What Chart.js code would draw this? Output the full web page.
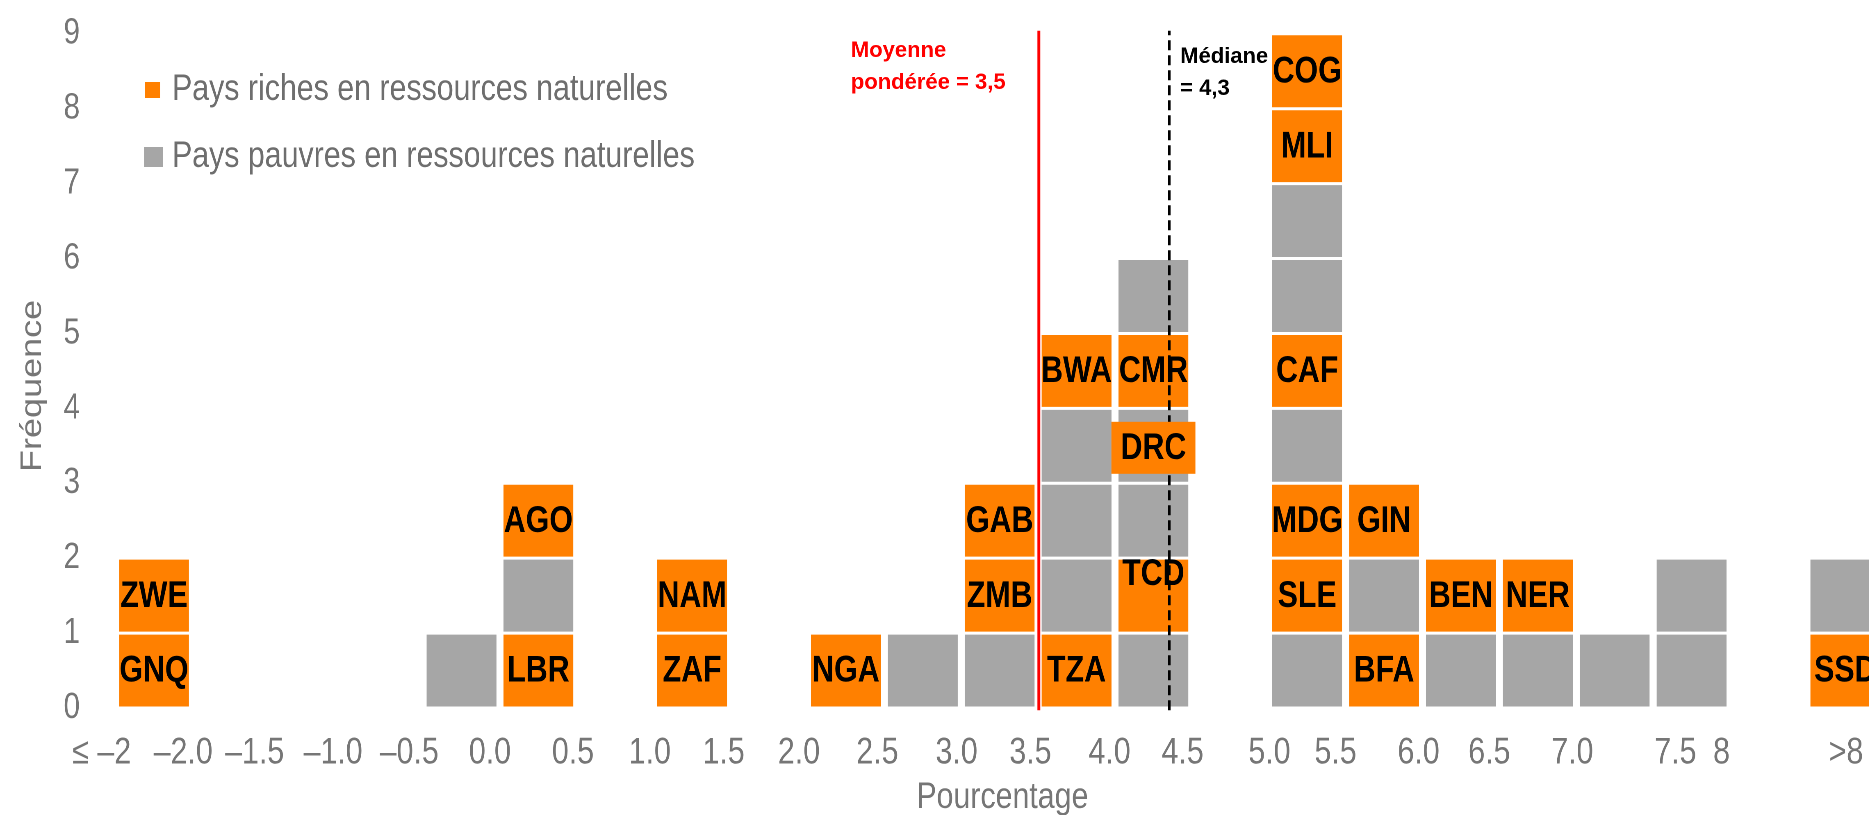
<!DOCTYPE html>
<html>
<head>
<meta charset="utf-8">
<script src="https://cdn.jsdelivr.net/npm/chart.js@4/dist/chart.umd.min.js"></script>
<style>
  html, body { margin: 0; padding: 0; background: #ffffff; width: 1869px; height: 815px; overflow: hidden; }
  #wrap { position: absolute; left: 0; top: 0; transform-origin: 0 0; }
</style>
</head>
<body>
<div id="wrap"><canvas id="chart"></canvas></div>
<script>
// ---------------- DATA ----------------
// x-axis tick labels (bin edges, in %) and where they sit on the bin axis
const tickLabels = ['≤ –2', '–2.0', '–1.5', '–1.0', '–0.5', '0.0', '0.5', '1.0', '1.5', '2.0', '2.5',
                    '3.0', '3.5', '4.0', '4.5', '5.0', '5.5', '6.0', '6.5', '7.0', '7.5', '8', '>8'];
const tickPositions = [-0.68, 0.38, 1.31, 2.33, 3.32, 4.37, 5.45, 6.45, 7.41, 8.39, 9.41,
                       10.44, 11.40, 12.43, 13.38, 14.51, 15.37, 16.45, 17.37, 18.45, 19.79, 20.39, 22.01];

// occupied bins (index on the bin axis) and their stacks of countries, bottom to top
// a code = pays riche en ressources naturelles ; '' = pays pauvre en ressources naturelles
const binSlots = [0, 4, 5, 7, 9, 10, 11, 12, 13, 15, 16, 17, 18, 19, 20, 22];
const binStacks = [
  ['GNQ', 'ZWE'],
  [''],
  ['LBR', '', 'AGO'],
  ['ZAF', 'NAM'],
  ['NGA'],
  [''],
  ['', 'ZMB', 'GAB'],
  ['TZA', '', '', '', 'BWA'],
  ['', 'TCD', '', 'DRC', 'CMR', ''],
  ['', 'SLE', 'MDG', '', 'CAF', '', '', 'MLI', 'COG'],
  ['BFA', '', 'GIN'],
  ['', 'BEN'],
  ['', 'NER'],
  [''],
  ['', ''],
  ['SSD', '']
];

const seriesNames = ['Pays riches en ressources naturelles', 'Pays pauvres en ressources naturelles'];
const meanText = ['Moyenne', 'pondérée = 3,5'];
const medianText = ['Médiane', '= 4,3'];
const meanPosition = 11.51;    // 3,5 on the bin axis
const medianPosition = 13.205; // 4,3 on the bin axis

// ---------------- STYLE ----------------
const ORANGE = '#FF8000', GRAY = '#A6A6A6', TXT = '#767676';
const floatingLabels = { DRC: { w: 84, h: 52 } }; // label drawn as its own orange box on a grey box
const labelRaise = { TCD: 0.29 };

function hasFont(name) {
  const c = document.createElement('canvas').getContext('2d');
  const s = 'Pays riches en ressources naturelles 0123456789';
  c.font = '36px monospace'; const a = c.measureText(s).width;
  c.font = '36px "' + name + '", monospace'; const b = c.measureText(s).width;
  return Math.abs(a - b) > 0.5;
}
let NARROW = null;
if (hasFont('Liberation Sans Narrow')) NARROW = '"Liberation Sans Narrow"';
else if (hasFont('Arial Narrow')) NARROW = '"Arial Narrow"';
const K = NARROW ? 1 : 0.82;                 // horizontal compression if no narrow face
const FAMILY = NARROW || '"Liberation Sans", Arial, sans-serif';
const WIDE = '"Liberation Sans", Arial, sans-serif';

const FINAL_W = 1915, H = 820, BOTTOM = 708;
const CW = Math.round(FINAL_W / K);
const canvas = document.getElementById('chart');
canvas.width = CW; canvas.height = H;
const wrap = document.getElementById('wrap');
wrap.style.width = CW + 'px'; wrap.style.height = H + 'px';
if (K !== 1) wrap.style.transform = 'scaleX(' + K + ')';

const X_LEFT = 90, X_SLOT0 = 154, UNIT = 76.89;
const xMin = -(X_SLOT0 - X_LEFT) / UNIT;
const xMax = xMin + (FINAL_W - X_LEFT) / UNIT;

// ---------------- DATASETS ----------------
const datasets = [];
const maxLevel = Math.max(...binStacks.map(s => s.length));
for (let lv = 0; lv < maxLevel; lv++) {
  const data = [];
  binSlots.forEach((slot, i) => {
    const st = binStacks[i];
    if (lv < st.length) data.push({ x: slot, y: 1, code: st[lv] });
  });
  datasets.push({
    type: 'bar',
    label: 'niveau ' + (lv + 1),
    data,
    stack: 'boites',
    backgroundColor: c => (c.raw && c.raw.code && !floatingLabels[c.raw.code]) ? ORANGE : GRAY,
    borderColor: '#ffffff',
    borderWidth: { top: 1.5, bottom: 1.5, left: 0, right: 0 },
    borderSkipped: false,
    barPercentage: 0.91,
    categoryPercentage: 1
  });
}
datasets.push({
  type: 'line', label: 'Moyenne pondérée', stack: 'moyenne', order: -1, clip: false,
  data: [{ x: meanPosition, y: -0.03 }, { x: meanPosition, y: 9.04 }],
  borderColor: '#FF0000', borderWidth: 3.5, pointRadius: 0
});
datasets.push({
  type: 'line', label: 'Médiane', stack: 'mediane', order: -1, clip: false,
  data: [{ x: medianPosition, y: -0.03 }, { x: medianPosition, y: 9.04 }],
  borderColor: '#000000', borderWidth: 3.5, borderDash: [10, 5], pointRadius: 0
});

// ---------------- PLUGINS ----------------
function wideText(ctx, txt, xFinal, y) { // text that keeps normal width
  ctx.save();
  ctx.translate(xFinal / K, y);
  ctx.scale(1 / K, 1);
  ctx.fillText(txt, 0, 0);
  ctx.restore();
}

const boxLabels = {
  id: 'boxLabels',
  afterDatasetDraw(chart, args) {
    const meta = args.meta;
    if (meta.type !== 'bar') return;
    const ctx = chart.ctx, ys = chart.scales.y;
    const unit = Math.abs(ys.getPixelForValue(1) - ys.getPixelForValue(0));
    const raws = chart.data.datasets[args.index].data;
    ctx.save();
    ctx.font = 'bold 37px ' + FAMILY;
    ctx.fillStyle = '#000';
    ctx.textAlign = 'center';
    ctx.textBaseline = 'middle';
    meta.data.forEach((el, i) => {
      const code = raws[i].code;
      if (!code || floatingLabels[code]) return;
      const p = el.getProps(['x', 'y', 'base'], true);
      ctx.fillText(code, p.x, (p.y + p.base) / 2 - (labelRaise[code] || 0) * unit + 1);
    });
    ctx.restore();
  },
  afterDatasetsDraw(chart) {
    const ctx = chart.ctx;
    chart.data.datasets.forEach((ds, di) => {
      if (ds.type !== 'bar') return;
      const meta = chart.getDatasetMeta(di);
      meta.data.forEach((el, i) => {
        const code = ds.data[i].code;
        const f = floatingLabels[code];
        if (!f) return;
        const p = el.getProps(['x', 'y', 'base'], true);
        const cy = (p.y + p.base) / 2 + 2;
        ctx.save();
        ctx.fillStyle = ORANGE;
        ctx.fillRect(p.x - f.w / 2 / K, cy - f.h / 2, f.w / K, f.h);
        ctx.font = 'bold 37px ' + FAMILY;
        ctx.fillStyle = '#000';
        ctx.textAlign = 'center';
        ctx.textBaseline = 'middle';
        ctx.fillText(code, p.x, cy + 1);
        ctx.restore();
      });
    });
  },
  afterDraw(chart) {
    const ctx = chart.ctx, xs = chart.scales.x;
    ctx.save();
    // legend
    ctx.fillStyle = ORANGE; ctx.fillRect(145 / K, 82, 15 / K, 16);
    ctx.fillStyle = GRAY;   ctx.fillRect(144 / K, 147, 19 / K, 20);
    ctx.font = '37px ' + FAMILY;
    ctx.fillStyle = '#6e6e6e';
    ctx.textAlign = 'left';
    ctx.textBaseline = 'alphabetic';
    ctx.fillText(seriesNames[0], 172 / K, 100);
    ctx.fillText(seriesNames[1], 172 / K, 167);
    // line annotations
    const mx = xs.getPixelForValue(meanPosition) * K;
    const dx = xs.getPixelForValue(medianPosition) * K;
    ctx.font = 'bold 22px ' + WIDE;
    ctx.fillStyle = '#FF0000';
    wideText(ctx, meanText[0], mx - 188, 57);
    wideText(ctx, meanText[1], mx - 188, 89);
    ctx.fillStyle = '#000000';
    wideText(ctx, medianText[0], dx + 11, 63);
    wideText(ctx, medianText[1], dx + 11, 95);
    ctx.restore();
  }
};

// ---------------- CHART ----------------
Chart.defaults.font.family = FAMILY;
Chart.defaults.color = TXT;

const noPad = s => { s.paddingLeft = 0; s.paddingRight = 0; };

new Chart(canvas, {
  data: { datasets },
  options: {
    responsive: false,
    animation: false,
    devicePixelRatio: K === 1 ? 1 : 2,
    layout: { padding: { top: 30, right: 0, bottom: 0, left: 0 } },
    plugins: { legend: { display: false }, tooltip: { enabled: false } },
    scales: {
      // bin axis carrying the boxes and the two reference lines (no labels)
      x: {
        type: 'linear',
        display: false,
        stacked: true,
        offset: false,
        bounds: 'data',
        min: xMin,
        max: xMax,
        grid: { offset: false },
        afterBuildTicks: s => { s.ticks = binSlots.map(v => ({ value: v })); },
        afterFit: noPad
      },
      // same range, carries the percentage labels
      xLabels: {
        type: 'linear',
        position: 'bottom',
        offset: false,
        bounds: 'data',
        min: xMin,
        max: xMax,
        grid: { display: false, drawTicks: false, offset: false },
        border: { display: false },
        afterBuildTicks: s => { s.ticks = tickPositions.map(v => ({ value: v })); },
        afterFit: s => { s.height = H - BOTTOM; noPad(s); },
        ticks: {
          autoSkip: false, maxRotation: 0, minRotation: 0,
          padding: 23,
          color: TXT,
          font: { family: FAMILY, size: 37 },
          callback: (v, i) => tickLabels[i]
        },
        title: { display: true, text: 'Pourcentage', color: TXT, font: { family: FAMILY, size: 37 }, padding: { top: 0, bottom: 0 } }
      },
      y: {
        stacked: true,
        min: 0,
        max: 9,
        grid: { display: false, drawTicks: false },
        border: { display: false },
        afterFit: s => { s.width = X_LEFT / K; },
        ticks: { stepSize: 1, padding: 10 / K, color: TXT, font: { family: FAMILY, size: 36 } },
        title: { display: true, text: 'Fréquence   ', color: TXT, font: { family: FAMILY, size: 36 }, padding: { top: 33 / K - 21.6, bottom: 0 } }
      }
    }
  },
  plugins: [boxLabels]
});
</script>
</body>
</html>
